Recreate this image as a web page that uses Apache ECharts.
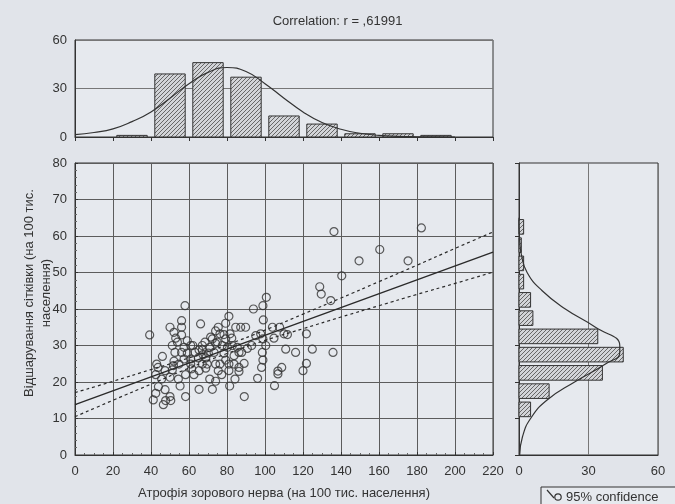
<!DOCTYPE html>
<html><head><meta charset="utf-8">
<script src="https://cdn.jsdelivr.net/npm/echarts@6/dist/echarts.min.js"></script>
<style>html,body{margin:0;padding:0;background:#e1e4ea;}#c{width:675px;height:504px;}</style>
</head><body><div id="c"></div>
<script>
// Scatter points (atrophy of optic nerve, retinal detachment), per 100k
const scatterX = [136.3,182.3,160.4,149.5,175.3,140.4,128.8,129.6,134.6,135.8,100.7,98.9,93.9,99.1,103.9,107.7,104.7,110.0,111.8,121.8,110.9,116.1,124.9,121.8,120.0,108.8,106.8,106.8,105.0,89.1,96.1,39.3,57.9,66.1,81.0,50.0,56.1,56.1,52.1,56.1,53.0,74.0,75.4,79.3,76.3,78.4,84.6,87.2,89.8,81.6,82.5,79.3,72.3,74.9,51.2,53.9,59.1,60.9,62.0,67.0,70.9,57.4,56.1,59.1,63.2,67.0,67.4,70.2,74.0,77.5,80.2,82.8,85.4,86.3,87.7,90.7,93.0,95.1,97.7,98.9,100.4,98.6,98.9,98.2,52.1,51.8,54.7,57.4,60.9,60.9,64.9,68.8,69.6,74.0,76.3,79.3,81.0,83.7,86.3,89.0,46.0,43.0,43.7,42.5,47.4,50.0,51.2,54.4,58.2,62.6,65.3,68.8,70.9,74.0,77.2,81.0,84.2,86.3,43.9,47.4,45.6,42.5,41.2,46.5,47.7,50.0,50.4,55.3,58.2,65.3,72.3,81.4,52.6,65.3,71.4,68.4,61.4,73.2,78.4,83.7,75.4,67.0];
const scatterY = [61.2,62.2,56.3,53.2,53.2,49.1,46.1,44.1,42.3,28.1,43.2,40.9,40.0,37.0,35.0,35.0,32.0,33.2,33.0,33.2,29.0,28.1,29.0,25.1,23.1,24.0,23.0,22.2,19.0,16.0,21.0,32.9,40.9,35.9,38.0,35.0,36.8,35.0,33.6,32.9,32.0,34.0,35.0,36.1,33.2,33.0,35.0,35.0,35.0,33.2,32.0,31.8,31.8,30.9,30.0,30.9,31.3,30.0,30.0,30.0,29.5,29.5,28.1,27.9,28.1,28.8,27.5,27.9,30.6,30.0,29.5,30.0,29.5,28.1,28.1,29.2,30.0,32.7,33.2,31.8,30.0,28.1,26.0,24.0,25.7,24.5,24.9,26.3,26.3,24.9,26.6,26.6,24.9,24.9,24.9,26.0,24.9,24.9,24.0,25.1,27.0,24.9,24.0,22.0,23.1,21.3,23.3,20.8,22.0,22.0,23.1,23.8,20.8,20.2,22.0,23.1,20.8,22.9,18.7,17.9,20.8,16.9,15.1,13.8,14.9,16.0,14.9,18.9,16.0,18.0,18.0,18.9,28.1,28.8,32.3,30.9,23.6,28.1,27.9,27.2,23.1,24.9];

// Top histogram (x variable), bin width 20
const topBinStart = [20,40,60,80,100,120,140,160,180];
const topCounts   = [1,39,46,37,13,8,2,2,1];
// Right histogram (y variable), bin width 5
const rightBinStart = [10,15,20,25,30,35,40,45,50,55,60];
const rightCounts   = [5,13,36,45,34,6,5,2,2,1,2];

// Normal curves
const topCurveX = [0,10,20,30,40,50,60,70,80,90,100,110,120,130,140,150,160,170,180,190,200];
const topCurveY = [1.5,2.8,5.0,9.5,15.5,24,33,40,43,40.5,33,24,15.5,9,4.8,2.3,1.0,0.4,0.15,0.05,0];
const rightCurveV = [0,5,10,15,20,25,28,30,35,40,45,50,55,60,65];
const rightCurveN = [0.3,1.5,5,12,24,37.5,43.5,43.5,33,20,10,3.5,1,0.2,0];

// Regression line and 95% confidence band
const fitX = [0,220];
const fitY = [13.8,55.6];
const bandX = [0,20,40,60,80,100,120,140,160,180,200,220];
const bandUpper = [17.1,20.2,23.4,26.6,30.2,34.2,38.6,43.0,47.5,52.0,56.6,61.1];
const bandLower = [10.5,15.0,19.4,23.8,27.8,31.4,34.6,37.8,40.9,44.0,47.0,50.1];

const FONT = '"Liberation Sans", Arial, sans-serif';
const TXT = '#333';
const GRID = '#5c5c5c';

function hatch(){
  const c=document.createElement('canvas');c.width=4;c.height=4;
  const g=c.getContext('2d');
  g.fillStyle='#d2d4d8';g.fillRect(0,0,4,4);
  g.strokeStyle='#5a5a5a';g.lineWidth=0.9;
  g.beginPath();g.moveTo(0,4);g.lineTo(4,0);g.moveTo(-1,1);g.lineTo(1,-1);g.moveTo(3,5);g.lineTo(5,3);g.stroke();
  return c;
}
const pattern = {image: hatch(), repeat: 'repeat'};

const chart = echarts.init(document.getElementById('c'), null, {renderer:'canvas'});
const lbl = {color:TXT, fontSize:13, fontFamily:FONT};

const option = {
  backgroundColor:'#e1e4ea',
  animation:false,
  title:{text:'Correlation: r = ,61991', left:'center', top:10, textStyle:{color:TXT, fontSize:13, fontWeight:'normal', fontFamily:FONT}},
  grid:[
    {left:75, top:40, width:418, height:97, show:true, borderColor:'#333', borderWidth:1, backgroundColor:'#e6e9ee'},
    {left:75, top:163, width:418, height:292, show:true, borderColor:'#333', borderWidth:1, backgroundColor:'#e6e9ee'},
    {left:519, top:163, width:139, height:292, show:true, borderColor:'#333', borderWidth:1, backgroundColor:'#e6e9ee'}
  ],
  xAxis:[
    {gridIndex:0, type:'value', min:0, max:220, interval:20, position:'top',
     axisLine:{show:true,lineStyle:{color:'#333'}}, axisTick:{show:true, inside:true, length:4, lineStyle:{color:'#333'}},
     axisLabel:{show:false}, splitLine:{show:false}},
    {gridIndex:1, type:'value', min:0, max:220, interval:20,
     axisLine:{show:true,lineStyle:{color:'#333'}}, axisTick:{show:true, inside:true, length:3, lineStyle:{color:'#333'}},
     minorTick:{show:true, splitNumber:4, length:2, lineStyle:{color:'#666'}},
     axisLabel:Object.assign({margin:10}, lbl), splitLine:{show:true, lineStyle:{color:GRID, width:1}}},
    {gridIndex:2, type:'value', min:0, max:60, interval:30,
     axisLine:{show:true,lineStyle:{color:'#333'}}, axisTick:{show:false},
     axisLabel:Object.assign({margin:10}, lbl), splitLine:{show:true, lineStyle:{color:'#777', width:1}}}
  ],
  yAxis:[
    {gridIndex:0, type:'value', min:0, max:60, interval:30,
     axisLine:{show:true,lineStyle:{color:'#333'}}, axisTick:{show:false},
     axisLabel:Object.assign({margin:8}, lbl), splitLine:{show:true, lineStyle:{color:'#777', width:1}}},
    {gridIndex:1, type:'value', min:0, max:80, interval:10,
     axisLine:{show:true,lineStyle:{color:'#333'}}, axisTick:{show:true, inside:true, length:3, lineStyle:{color:'#333'}},
     minorTick:{show:true, splitNumber:5, length:2, lineStyle:{color:'#666'}},
     axisLabel:Object.assign({margin:8}, lbl), splitLine:{show:true, lineStyle:{color:GRID, width:1}}},
    {gridIndex:2, type:'value', min:0, max:80, interval:10, position:'right',
     axisLine:{show:true,lineStyle:{color:'#333'}}, axisTick:{show:true, inside:true, length:4, lineStyle:{color:'#333'}},
     axisLabel:{show:false}, splitLine:{show:false}}
  ],
  series:[
    {type:'custom', xAxisIndex:0, yAxisIndex:0,
     data: topBinStart.map((s,i)=>[s, s+20, topCounts[i]]),
     encode:{x:[0,1], y:2},
     renderItem:function(params, api){
       const s=api.value(0), e=api.value(1), v=api.value(2);
       const p0=api.coord([s,0]), p1=api.coord([e,v]);
       const w=p1[0]-p0[0], ins=w*0.1;
       return {type:'rect', shape:{x:p0[0]+ins, y:p1[1], width:w-2*ins, height:Math.max(p0[1]-p1[1],1.5)},
         style:{fill:pattern, stroke:'#333', lineWidth:1}};
     }},
    {type:'line', xAxisIndex:0, yAxisIndex:0, smooth:true, symbol:'none',
     data: topCurveX.map((x,i)=>[x, topCurveY[i]]), lineStyle:{color:'#333', width:1.2}},
    {type:'custom', xAxisIndex:2, yAxisIndex:2,
     data: rightBinStart.map((s,i)=>[rightCounts[i], s, s+5]),
     encode:{x:0, y:[1,2]},
     renderItem:function(params, api){
       const v=api.value(0), s=api.value(1), e=api.value(2);
       const p0=api.coord([0,s]), p1=api.coord([v,e]);
       const h=p0[1]-p1[1], ins=h*0.1;
       return {type:'rect', shape:{x:p0[0], y:p1[1]+ins, width:Math.max(p1[0]-p0[0],1.5), height:h-2*ins},
         style:{fill:pattern, stroke:'#333', lineWidth:1}};
     }},
    {type:'line', xAxisIndex:2, yAxisIndex:2, smooth:true, symbol:'none',
     data: rightCurveV.map((v,i)=>[rightCurveN[i], v]), lineStyle:{color:'#333', width:1.2}},
    {type:'scatter', xAxisIndex:1, yAxisIndex:1, symbol:'circle', symbolSize:8,
     data: scatterX.map((x,i)=>[x, scatterY[i]]),
     itemStyle:{color:'rgba(0,0,0,0)', borderColor:'#333', borderWidth:1.2}},
    {type:'line', xAxisIndex:1, yAxisIndex:1, symbol:'none',
     data: fitX.map((x,i)=>[x, fitY[i]]), lineStyle:{color:'#2a2a2a', width:1.4}},
    {type:'line', xAxisIndex:1, yAxisIndex:1, symbol:'none', smooth:true,
     data: bandX.map((x,i)=>[x, bandUpper[i]]), lineStyle:{color:'#2a2a2a', width:1.2, type:[3,3]}},
    {type:'line', xAxisIndex:1, yAxisIndex:1, symbol:'none', smooth:true,
     data: bandX.map((x,i)=>[x, bandLower[i]]), lineStyle:{color:'#2a2a2a', width:1.2, type:[3,3]}}
  ],
  graphic:[
    {type:'text', x:284, y:493, style:{text:'Атрофія зорового нерва (на 100 тис. населення)', fill:TXT, font:'13px '+FONT, textAlign:'center', textVerticalAlign:'middle'}},
    {type:'text', x:38, y:293, rotation:Math.PI/2, style:{text:'Відшарування сітківки (на 100 тис.\nнаселення)', fill:TXT, font:'13px '+FONT, textAlign:'center', textVerticalAlign:'middle', lineHeight:17}},
    {type:'rect', shape:{x:541, y:487, width:140, height:24}, style:{fill:'#e6e9ee', stroke:'#333', lineWidth:1}},
    {type:'polyline', shape:{points:[[547,490],[554,498]]}, style:{stroke:'#333', lineWidth:1.2, fill:null}},
    {type:'circle', shape:{cx:558, cy:497, r:3.2}, style:{stroke:'#333', lineWidth:1.2, fill:'none'}},
    {type:'text', x:566, y:497, style:{text:'95% confidence', fill:TXT, font:'13px '+FONT, textAlign:'left', textVerticalAlign:'middle'}}
  ]
};
chart.setOption(option);
</script>
</body></html>
